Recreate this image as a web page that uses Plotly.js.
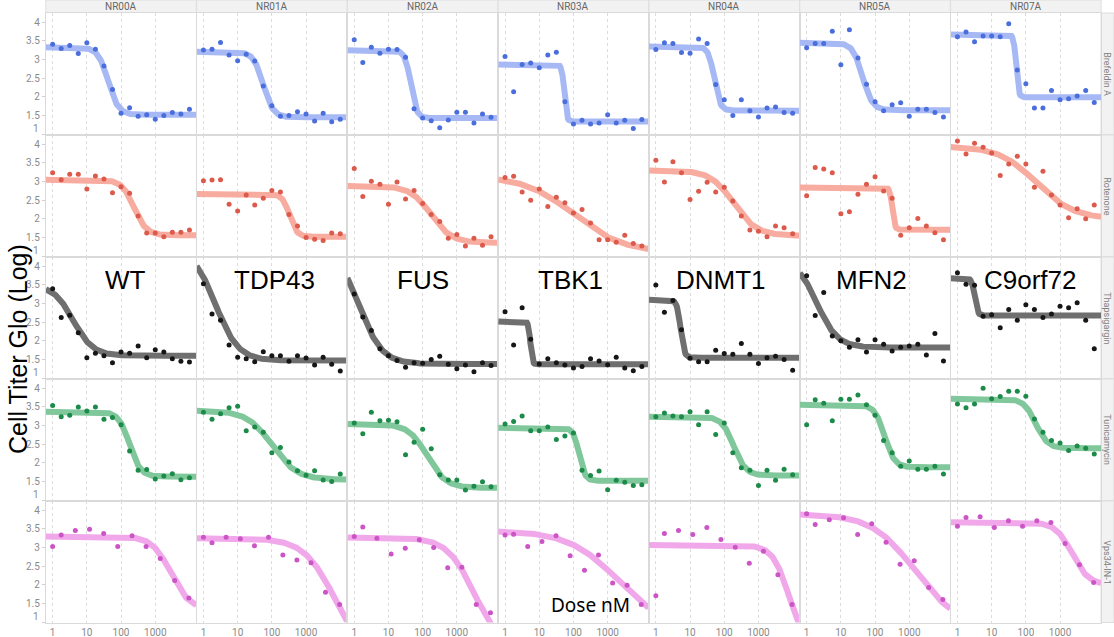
<!DOCTYPE html>
<html>
<head>
<meta charset="utf-8">
<script src="https://cdn.plot.ly/plotly-3.0.1.min.js"></script>
<style>
  html, body { margin: 0; padding: 0; background: #ffffff; }
  #chart { width: 1114px; height: 637px; }
</style>
</head>
<body>
<div id="chart"></div>
<script>
// Cell lines (facet columns) and their genotype labels
const cellLines = ['NR00A', 'NR01A', 'NR02A', 'NR03A', 'NR04A', 'NR05A', 'NR07A'];
const genotypes = ['WT', 'TDP43', 'FUS', 'TBK1', 'DNMT1', 'MFN2', 'C9orf72'];
// Compounds (facet rows)
const compounds = ['Brefeldin A', 'Rotenone', 'Thapsigargin', 'Tunicamycin', 'Vps34-IN-1'];

// Dose series (nM)
const doseNM = [1, 1.78, 3.16, 5.62, 10, 17.8, 31.6, 56.2, 100, 178, 316, 562, 1000, 1780, 3160, 5620, 10000];
const doseVps34 = [1, 1.78, 4.6, 12, 31, 80, 210, 540, 1400, 3700, 9600];

// Measured Cell Titer Glo (log) per cell line, one array per compound
const brefeldinA = [
  [3.41, 3.30, 3.38, 3.16, 3.45, 3.28, 2.83, 2.20, 1.56, 1.71, 1.48, 1.52, 1.40, 1.50, 1.58, 1.54, 1.67],
  [3.26, 3.28, 3.46, 3.12, 2.97, 3.14, 2.96, 2.29, 1.76, 1.48, 1.50, 1.60, 1.54, 1.35, 1.56, 1.33, 1.40],
  [3.53, 2.92, 3.33, 3.17, 3.28, 3.27, 3.06, 1.68, 1.43, 1.36, 1.17, 1.38, 1.59, 1.59, 1.30, 1.54, 1.45],
  [3.08, 2.14, 2.87, 2.91, 2.78, 3.12, 3.20, 1.87, 1.27, 1.37, 1.27, 1.30, 1.52, 1.30, 1.37, 1.15, 1.39],
  [3.27, 3.45, 3.43, 3.19, 3.17, 3.55, 3.43, 2.33, 1.92, 1.50, 1.92, 1.63, 1.46, 1.70, 1.73, 1.58, 1.56],
  [3.32, 3.43, 3.43, 3.76, 2.86, 3.80, 3.04, 2.34, 1.87, 1.63, 1.79, 1.84, 1.48, 1.67, 1.67, 1.58, 1.46],
  [3.61, 3.74, 3.48, 3.63, 3.63, 3.61, 3.96, 2.72, 2.35, 1.70, 1.70, 2.17, 1.92, 1.95, 2.02, 2.17, 1.85]
];
const rotenone = [
  [3.24, 3.05, 3.20, 3.20, 2.80, 3.15, 3.07, 2.70, 2.86, 2.69, 2.08, 1.62, 1.62, 1.52, 1.64, 1.64, 1.70],
  [3.02, 3.04, 3.05, 2.39, 2.21, 2.64, 2.37, 2.55, 2.76, 2.72, 2.12, 1.81, 1.50, 1.45, 1.42, 1.62, 1.60],
  [3.35, 2.60, 3.01, 2.93, 2.39, 2.99, 2.53, 2.76, 2.41, 2.12, 1.93, 1.48, 1.58, 1.27, 1.48, 1.29, 1.52],
  [3.11, 3.14, 2.72, 2.50, 2.80, 2.33, 2.58, 2.43, 2.16, 2.25, 1.89, 1.44, 1.44, 1.37, 1.56, 1.34, 1.27],
  [3.57, 2.99, 3.53, 3.24, 2.52, 2.74, 2.98, 2.72, 2.85, 2.48, 2.08, 1.70, 1.67, 1.52, 1.81, 1.76, 1.60],
  [2.62, 3.38, 3.34, 3.24, 2.14, 2.19, 2.66, 2.93, 3.13, 2.75, 2.55, 1.56, 1.76, 2.01, 1.81, 1.63, 1.44],
  [4.09, 3.74, 4.03, 3.92, 3.77, 3.16, 3.47, 3.68, 3.47, 2.85, 3.28, 2.64, 2.37, 2.03, 2.27, 2.00, 2.37]
];
const thapsigargin = [
  [3.40, 2.63, 2.69, 2.22, 1.55, 1.67, 1.60, 1.41, 1.70, 1.67, 1.86, 1.55, 1.76, 1.70, 1.52, 1.45, 1.43],
  [3.53, 2.72, 2.55, 1.89, 1.56, 1.52, 1.44, 1.71, 1.60, 1.60, 1.45, 1.60, 1.54, 1.35, 1.56, 1.37, 1.19],
  [3.26, 2.64, 2.28, 1.79, 1.60, 1.47, 1.29, 1.41, 1.40, 1.50, 1.59, 1.37, 1.25, 1.35, 1.17, 1.41, 1.34],
  [2.78, 1.89, 2.89, 2.04, 1.38, 1.52, 1.41, 1.35, 1.27, 1.31, 1.52, 1.46, 1.36, 1.56, 1.27, 1.20, 1.31],
  [3.50, 2.77, 3.08, 2.30, 1.53, 1.44, 1.44, 1.75, 1.66, 1.64, 1.93, 1.64, 1.39, 1.55, 1.59, 1.50, 1.21],
  [3.75, 2.68, 3.30, 2.13, 2.00, 1.83, 2.03, 1.70, 2.03, 1.91, 1.73, 1.83, 1.86, 1.91, 1.62, 2.20, 1.46],
  [3.83, 3.52, 3.49, 2.66, 2.70, 2.35, 2.84, 2.55, 2.97, 2.84, 2.63, 2.72, 2.93, 2.89, 3.02, 2.55, 1.79]
];
const tunicamycin = [
  [3.54, 3.24, 3.28, 3.50, 3.39, 3.50, 3.17, 3.22, 3.02, 2.32, 1.80, 1.82, 1.57, 1.65, 1.71, 1.55, 1.60],
  [3.36, 3.17, 3.32, 3.48, 3.52, 2.86, 2.96, 2.82, 2.27, 2.41, 2.02, 1.79, 1.67, 1.79, 1.54, 1.50, 1.70],
  [3.07, 2.78, 3.36, 3.13, 3.14, 3.10, 2.22, 2.55, 2.90, 2.38, 1.68, 1.54, 1.54, 1.27, 1.37, 1.49, 1.36],
  [3.04, 3.11, 3.26, 2.86, 2.86, 2.96, 2.63, 2.72, 2.80, 1.80, 1.66, 1.78, 1.28, 1.53, 1.48, 1.39, 1.41],
  [3.24, 3.34, 3.26, 3.24, 3.37, 3.02, 3.37, 2.76, 3.07, 2.27, 1.87, 1.80, 1.39, 1.80, 1.53, 1.83, 1.68],
  [3.02, 3.69, 3.60, 3.13, 3.71, 3.71, 3.82, 3.56, 3.28, 2.60, 2.27, 1.91, 2.05, 1.83, 1.83, 1.91, 1.70],
  [3.58, 3.48, 3.58, 4.00, 3.72, 3.78, 3.92, 3.92, 3.79, 3.18, 2.82, 2.60, 2.53, 2.33, 2.45, 2.39, 2.24]
];
const vps34IN1 = [
  [3.03, 3.34, 3.46, 3.49, 3.38, 3.03, 3.32, 3.03, 2.71, 2.12, 1.65],
  [3.28, 3.13, 3.28, 3.24, 3.05, 3.28, 2.80, 2.67, 2.59, 1.80, 1.47],
  [3.30, 3.55, 3.25, 2.83, 2.98, 3.21, 3.00, 2.46, 2.47, 1.47, 1.25],
  [3.34, 3.36, 3.03, 3.16, 3.32, 2.78, 2.39, 2.80, 2.05, 1.99, 1.47],
  [1.71, 3.38, 3.46, 3.35, 3.54, 3.22, 3.01, 2.58, 2.90, 2.27, 1.47],
  [3.91, 3.62, 3.75, 3.80, 3.35, 3.64, 3.14, 2.55, 2.65, 1.93, 1.61],
  [3.57, 3.81, 3.83, 3.54, 3.72, 3.57, 3.72, 3.67, 3.11, 2.54, 2.06]
];

// Four-parameter logistic fits: [top, bottom, EC50 (nM), hill slope]
const brefeldinFit = [[3.33, 1.52, 42, 2.9], [3.21, 1.45, 56, 3.0], [3.25, 1.43, 45, 5], [2.87, 1.34, 54, 12],
                      [3.35, 1.63, 51, 5], [3.45, 1.64, 43, 3], [3.67, 1.99, 52, 12]];
const rotenoneFit = [[3.05, 1.56, 240, 2.4], [2.67, 1.52, 330, 4], [2.88, 1.36, 174, 1.45], [3.15, 1.1, 100, 0.6],
                     [3.3, 1.55, 185, 1.3], [2.84, 1.71, 320, 12], [3.95, 2.0, 200, 0.8]];
const thapsigarginFit = [[3.5, 1.6, 4, 1.5], [4.5, 1.47, 2.24, 1.3], [4.5, 1.38, 1.41, 1.3], [2.52, 1.37, 5.5, 15],
                         [3.10, 1.55, 5.3, 8], [4.2, 1.82, 2.0, 1.45], [3.68, 2.68, 3.2, 10]];
const tunicamycinFit = [[3.37, 1.63, 178, 2.7], [3.4, 1.55, 100, 1.2], [3.04, 1.33, 135, 1.6], [2.94, 1.52, 147, 5],
                        [3.24, 1.66, 190, 2.5], [3.56, 1.88, 190, 3], [3.72, 2.39, 195, 2.5]];
const vps34Fit = [[3.3, 1.35, 2800, 1.6], [3.25, 0.0, 7000, 0.95], [3.27, 0.3, 3160, 1.1], [3.45, 0.8, 2000, 0.6],
                  [3.07, 0.3, 7900, 1.8], [3.9, 0.9, 1400, 0.7], [3.68, 2.0, 2240, 1.8]];

// Axis ticks (the bottom "1" label is drawn flush inside the panel, see below)
const xTickVals = [1, 10, 100, 1000];
const xTickText = ['1', '10', '100', '1000'];
const yTickVals = [1, 1.5, 2, 2.5, 3, 3.5, 4];
const yTickText = ['', '1.5', '2', '2.5', '3', '3.5', '4'];
const yFlushLabel = '1';

// Per-compound series setup
const rowValues = [brefeldinA, rotenone, thapsigargin, tunicamycin, vps34IN1];
const rowFits = [brefeldinFit, rotenoneFit, thapsigarginFit, tunicamycinFit, vps34Fit];
const rowDoses = [doseNM, doseNM, doseNM, doseNM, doseVps34];
const pointColors = ['#4a6edb', '#dc5a4c', '#161616', '#1c8a48', '#cc55c6'];
const curveColors = ['#a7b9f5', '#f8ab9f', '#6f6f6f', '#80c89c', '#f1a8ea'];

// Page geometry (pixels)
const W = 1114, H = 637;
const colLeft0 = 45.8, colPitch = 150.8, colWidth = 150.5;
const rowTop0 = 13, rowPitch = 122, rowHeight = 121.5;
const xRangeLog = [-0.2, 4.2];
const yRange = [0.99, 4.25];
const stripH = 12.5;
const rightStripX = 1101;

const px = x => x / W;
const py = y => 1 - y / H;

function logistic(p, x) {
  const [top, bottom, ec50, hill] = p;
  return bottom + (top - bottom) / (1 + Math.pow(x / ec50, hill));
}

const traces = [];
const layout = {
  width: W, height: H,
  margin: { l: 0, r: 0, t: 0, b: 0 },
  paper_bgcolor: '#ffffff', plot_bgcolor: '#ffffff',
  showlegend: false,
  font: { family: 'Roboto, Inter, sans-serif', size: 10, color: '#888' },
  shapes: [], annotations: []
};

compounds.forEach((cmp, r) => {
  const top = rowTop0 + r * rowPitch;
  cellLines.forEach((cell, c) => {
    const idx = r * 7 + c + 1;
    const sfx = idx === 1 ? '' : String(idx);
    const left = colLeft0 + c * colPitch;
    layout['xaxis' + sfx] = {
      type: 'log', range: xRangeLog, anchor: 'y' + sfx,
      domain: [px(left), px(left + colWidth)],
      tickvals: xTickVals, ticktext: xTickText,
      showticklabels: r === 4, ticks: '',
      tickfont: { size: 10, color: '#8a8a8a' },
      showgrid: true, gridcolor: '#dcdcdc', griddash: 'dot', gridwidth: 1,
      showline: true, mirror: true, linecolor: '#dadada', linewidth: 1,
      zeroline: false, fixedrange: true
    };
    layout['yaxis' + sfx] = {
      range: yRange, anchor: 'x' + sfx,
      domain: [py(top + rowHeight), py(top)],
      tickvals: yTickVals, ticktext: yTickText,
      showticklabels: c === 0, ticks: c === 0 ? 'outside' : '', ticklen: 3, tickcolor: '#cfcfcf',
      tickfont: { size: 10, color: '#8a8a8a' },
      showgrid: false,
      showline: true, mirror: true, linecolor: '#dadada', linewidth: 1,
      zeroline: false, fixedrange: true
    };

    // fitted curve across the full dose axis
    const fit = rowFits[r][c];
    const cx = [], cy = [];
    const n = 220;
    for (let i = 0; i <= n; i++) {
      const lx = xRangeLog[0] + (xRangeLog[1] - xRangeLog[0]) * i / n;
      const x = Math.pow(10, lx);
      cx.push(x);
      cy.push(logistic(fit, x));
    }
    traces.push({
      type: 'scatter', mode: 'lines', x: cx, y: cy,
      xaxis: 'x' + sfx, yaxis: 'y' + sfx,
      line: { color: curveColors[r], width: 6 },
      hoverinfo: 'skip'
    });
    traces.push({
      type: 'scatter', mode: 'markers', x: rowDoses[r], y: rowValues[r][c],
      xaxis: 'x' + sfx, yaxis: 'y' + sfx,
      marker: { color: pointColors[r], size: 5 },
      cliponaxis: true,
      name: genotypes[c] + ' ' + cmp
    });
  });

  // bottom y label, kept flush inside the row
  layout.annotations.push({
    xref: 'paper', yref: 'paper', x: px(41.5), y: py(top + rowHeight - 6),
    text: yFlushLabel, showarrow: false,
    font: { family: 'Roboto, Inter, sans-serif', size: 10, color: '#8a8a8a' },
    xanchor: 'right', yanchor: 'middle'
  });

  // row strip on the right
  layout.shapes.push({
    type: 'rect', xref: 'paper', yref: 'paper',
    x0: px(rightStripX), x1: 1, y0: py(top + rowHeight), y1: py(top),
    fillcolor: '#f2f2f2', line: { color: '#dedede', width: 1 }, layer: 'below'
  });
  layout.annotations.push({
    xref: 'paper', yref: 'paper', x: px(rightStripX + 6.5), y: py(top + rowHeight / 2),
    text: cmp, showarrow: false, textangle: 90,
    font: { family: 'Roboto, sans-serif', size: 9, color: '#808080' },
    xanchor: 'center', yanchor: 'middle'
  });
});

// column strips on top
cellLines.forEach((cell, c) => {
  const left = colLeft0 + c * colPitch;
  layout.shapes.push({
    type: 'rect', xref: 'paper', yref: 'paper',
    x0: px(left), x1: px(left + colWidth), y0: py(stripH), y1: 1,
    fillcolor: '#f2f2f2', line: { color: '#dedede', width: 1 }, layer: 'below'
  });
  layout.annotations.push({
    xref: 'paper', yref: 'paper', x: px(left + colWidth / 2), y: py(stripH / 2),
    text: cell, showarrow: false,
    font: { family: 'Roboto, sans-serif', size: 10, color: '#666' },
    xanchor: 'center', yanchor: 'middle'
  });
});

// genotype labels across the Thapsigargin row
const genotypeCenters = [125, 274, 423, 570, 721, 871, 1030];
genotypes.forEach((g, c) => {
  layout.annotations.push({
    xref: 'paper', yref: 'paper', x: px(genotypeCenters[c]), y: py(280),
    text: g, showarrow: false,
    font: { family: 'Liberation Sans, Arial, sans-serif', size: 26, color: '#000' },
    xanchor: 'center', yanchor: 'middle'
  });
});

// axis titles
layout.annotations.push({
  xref: 'paper', yref: 'paper', x: px(18), y: py(349),
  text: 'Cell Titer Glo (Log)', showarrow: false, textangle: -90,
  font: { family: 'Liberation Sans, Arial, sans-serif', size: 25, color: '#000' },
  xanchor: 'center', yanchor: 'middle'
});
layout.annotations.push({
  xref: 'paper', yref: 'paper', x: px(590), y: py(605),
  text: 'Dose nM', showarrow: false,
  font: { family: 'Noto Sans, Open Sans, sans-serif', size: 19, color: '#000' },
  xanchor: 'center', yanchor: 'middle'
});

Plotly.newPlot('chart', traces, layout, { displayModeBar: false, staticPlot: true });
</script>
</body>
</html>
